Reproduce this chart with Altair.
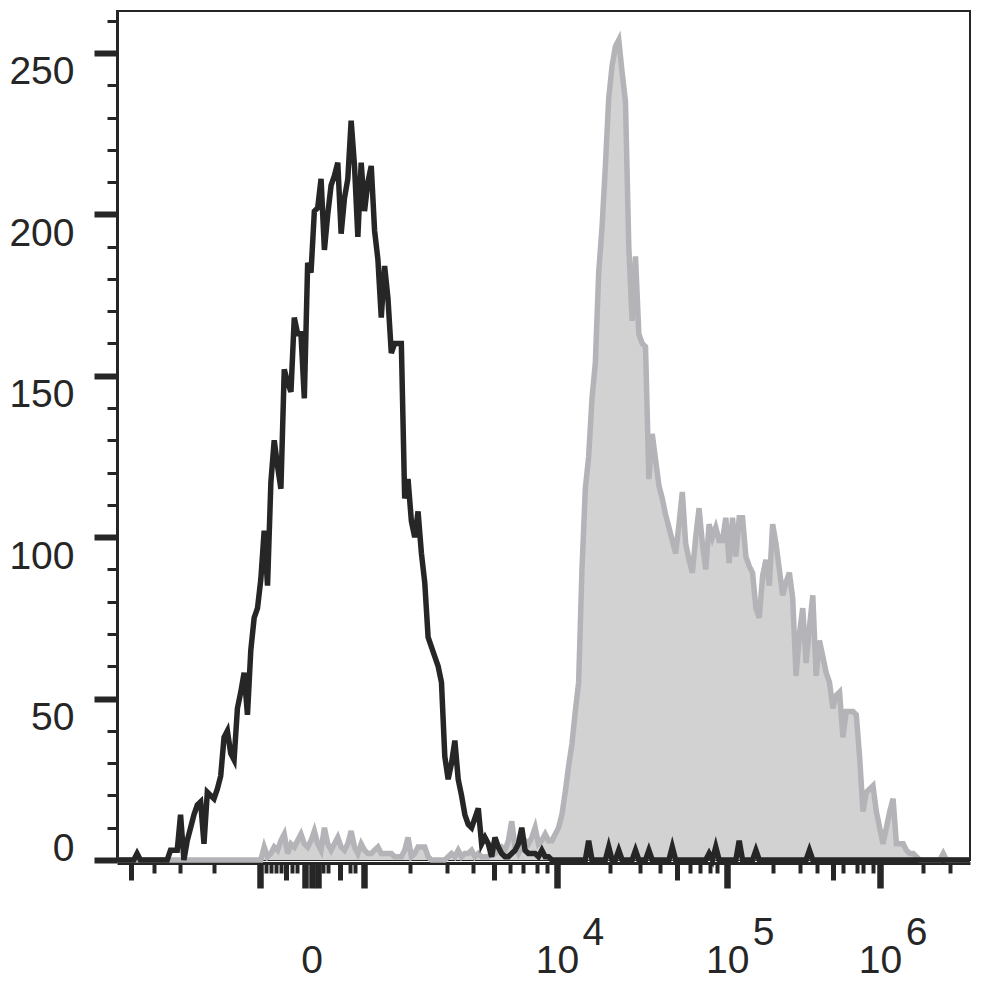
import json
import altair as alt
import pandas as pd

# ---- histogram counts per display channel (256 channels) ----
black_counts = (
    [0, 0, 0, 0, 0, 0, 2, 0, 0, 0, 0, 0, 0, 0, 0, 0]
    + [3, 3, 3, 14, 0, 6, 10, 14, 17, 18, 5, 21, 20, 19, 22, 26]
    + [38, 40, 33, 31, 47, 52, 58, 45, 65, 75, 78, 87, 102, 85, 117, 130]
    + [122, 115, 152, 148, 145, 168, 163, 163, 143, 185, 182, 201, 202, 211, 189, 200]
    + [209, 212, 216, 194, 205, 211, 229, 215, 193, 216, 201, 210, 215, 195, 186, 168]
    + [184, 174, 157, 160, 160, 160, 112, 118, 105, 100, 108, 95, 86, 69, 66, 63]
    + [60, 55, 32, 25, 30, 37, 25, 20, 14, 11, 10, 13, 16, 5, 7, 5]
    + [1, 7, 4, 2, 1, 1, 2, 3, 5, 10, 3, 2, 2, 2, 1, 3]
    + [1, 1, 0, 0, 0, 0, 0, 0, 0, 0, 0, 0, 0, 6, 0, 0]
    + [0, 0, 0, 4, 0, 0, 3, 0, 0, 0, 0, 3, 0, 0, 0, 3]
    + [0, 0, 0, 0, 0, 0, 4, 0, 0, 0, 0, 0, 0, 0, 0, 0]
    + [0, 2, 0, 4, 0, 0, 0, 0, 0, 0, 6, 0, 0, 0, 0, 3]
    + [0, 0, 0, 0, 0, 0, 0, 0, 0, 0, 0, 0, 0, 0, 0, 3]
    + [0] * 48
)

gray_counts = (
    [0] * 44
    + [4, 1, 2, 4, 3, 6, 8, 2, 5, 4, 6, 8, 5, 4, 6, 9]
    + [5, 3, 10, 5, 3, 5, 7, 4, 3, 5, 9, 4, 2, 5, 3, 2]
    + [2, 3, 4, 2, 2, 2, 2, 1, 1, 1, 3, 7, 1, 2, 4, 4]
    + [4, 1, 0, 0, 0, 0, 0, 1, 2, 1, 3, 1, 2, 2, 3, 1]
    + [2, 1, 1, 1, 2, 2, 3, 4, 3, 6, 12, 4, 2, 4, 6, 5]
    + [7, 10, 5, 6, 8, 6, 6, 8, 10, 14, 21, 29, 36, 46, 55, 90]
    + [115, 125, 143, 154, 182, 196, 215, 236, 246, 252, 254, 244, 235, 190, 167, 187]
    + [163, 160, 159, 118, 132, 124, 116, 112, 107, 103, 99, 95, 104, 114, 98, 93]
    + [89, 100, 109, 98, 90, 104, 100, 103, 99, 99, 106, 92, 106, 94, 106, 106]
    + [94, 91, 89, 78, 75, 88, 93, 85, 104, 98, 90, 82, 86, 89, 81, 57]
    + [70, 78, 61, 72, 82, 57, 68, 63, 58, 55, 47, 51, 52, 38, 46, 46]
    + [46, 45, 32, 15, 21, 22, 23, 15, 10, 5, 10, 15, 19, 5, 5, 5]
    + [3, 2, 2, 1, 0, 0, 0, 0, 0, 0, 0, 2, 0, 0, 0, 0]
    + [0, 0, 0, 0]
)

# ---- axis ticks (display-channel positions of the logicle ticks) ----
long_ticks = [42.8, 56.2, 58.2, 60.1, 73.7, 131.5, 182.4, 228.1]
medium_ticks = [4.2, 50.6, 66.7, 112.7, 167.4, 214.1]
short_ticks = [11.1, 18.8, 29.0, 44.5, 46.0, 47.5, 49.0, 52.3, 53.8, 61.6, 63.1,
               69.7, 71.2, 87.6, 98.7, 106.4, 117.5, 121.4, 125.6, 128.6,
               147.4, 156.4, 162.3, 171.3, 174.3, 177.3, 179.4,
               196.1, 204.2, 209.3, 217.0, 221.2, 223.0, 226.0, 241.0, 249.0]
label_positions = [58.2, 131.5, 182.4, 228.1]
label_base = ["0", "10", "10", "10"]
label_sup = ["", "4", "5", "6"]

y_ticks = list(range(0, 261, 10))

INK = "#262626"
FONT = "Liberation Sans"

df_black = pd.DataFrame({"channel": list(range(len(black_counts))), "count": black_counts})
df_gray = pd.DataFrame({"channel": list(range(len(gray_counts))), "count": gray_counts})


def label_expr(positions, texts):
    expr = "''"
    for p, t in reversed(list(zip(positions, texts))):
        expr = f"datum.value === {p} ? '{t}' : ({expr})"
    return expr


all_x_ticks = sorted(long_ticks + medium_ticks + short_ticks)
long_test = f"indexof({json.dumps(long_ticks)}, datum.value) >= 0"
med_test = f"indexof({json.dumps(medium_ticks)}, datum.value) >= 0"

x_scale = alt.Scale(domain=[0, 255], nice=False, zero=False)
y_scale = alt.Scale(domain=[0, 263], nice=False, zero=False)

x_main_axis = alt.Axis(
    orient="bottom", values=all_x_ticks, title=None, grid=False, offset=3,
    labelExpr=label_expr(label_positions, label_base),
    tickSize={"condition": [{"test": long_test, "value": 25}, {"test": med_test, "value": 17}], "value": 10},
    tickWidth={"condition": [{"test": long_test, "value": 6.5}, {"test": med_test, "value": 5}], "value": 4},
    tickColor=INK, domainColor=INK, domainWidth=3,
    labelFont=FONT, labelFontSize=39, labelColor=INK,
    labelBaseline="alphabetic", labelPadding=84,
    labelOverlap=False, labelFlush=False, labelBound=False,
)

x_sup_axis = alt.Axis(
    orient="bottom", values=label_positions, title=None, grid=False, offset=3,
    ticks=False, domain=False,
    labelExpr=label_expr(label_positions, label_sup),
    labelFont=FONT, labelFontSize=39, labelColor=INK,
    labelBaseline="alphabetic", labelPadding=81, labelOffset=36,
    labelOverlap=False, labelFlush=False, labelBound=False,
)

y_axis = alt.Axis(
    orient="left", values=y_ticks, title=None, grid=False,
    labelExpr="datum.value % 50 === 0 ? datum.label : ''",
    tickSize={"condition": {"test": "datum.value % 50 === 0", "value": 23}, "value": 10},
    tickWidth={"condition": {"test": "datum.value % 50 === 0", "value": 6}, "value": 3},
    labelBaseline={"condition": {"test": "datum.value === 0", "value": "alphabetic"}, "value": "top"},
    tickColor=INK, domainColor=INK, domainWidth=3,
    labelFont=FONT, labelFontSize=39, labelColor=INK, labelPadding=20,
    labelOverlap=False, labelFlush=False, labelBound=False,
)

area = alt.Chart(df_gray).mark_area(color="#d2d2d2", interpolate="linear").encode(
    x=alt.X("channel:Q", scale=x_scale, axis=x_main_axis),
    y=alt.Y("count:Q", scale=y_scale, axis=y_axis),
)
gray_line = alt.Chart(df_gray).mark_line(color="#b4b4b8", strokeWidth=5.5).encode(
    x=alt.X("channel:Q", scale=x_scale, axis=x_sup_axis),
    y=alt.Y("count:Q", scale=y_scale, axis=y_axis),
)
black_line = alt.Chart(df_black).mark_line(color=INK, strokeWidth=5.5).encode(
    x=alt.X("channel:Q", scale=x_scale, axis=None),
    y=alt.Y("count:Q", scale=y_scale, axis=y_axis),
)

chart = (
    alt.layer(area, gray_line, black_line)
    .resolve_axis(x="independent")
    .properties(
        width=853, height=849,
        autosize=alt.AutoSizeParams(type="none"),
        padding={"left": 109, "top": 3, "right": 7, "bottom": 123},
        background="white",
    )
    .configure_view(stroke=INK, strokeWidth=2)
)

chart.save("out.html", embed_options={"renderer": "svg", "actions": False})
